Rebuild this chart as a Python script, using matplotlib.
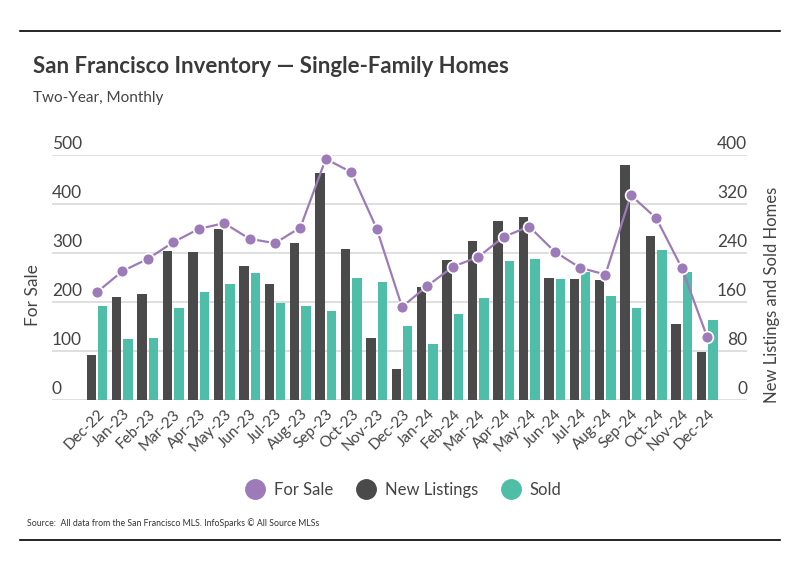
import numpy as np
import matplotlib
matplotlib.use("Agg")
import matplotlib.pyplot as plt
import matplotlib.transforms as mtransforms
from matplotlib.lines import Line2D

months = ["Dec-22", "Jan-23", "Feb-23", "Mar-23", "Apr-23", "May-23", "Jun-23",
          "Jul-23", "Aug-23", "Sep-23", "Oct-23", "Nov-23", "Dec-23", "Jan-24",
          "Feb-24", "Mar-24", "Apr-24", "May-24", "Jun-24", "Jul-24", "Aug-24",
          "Sep-24", "Oct-24", "Nov-24", "Dec-24"]
for_sale = [220, 263, 288, 322, 349, 361, 329, 320, 352, 492, 465, 350, 190,
            233, 272, 292, 333, 354, 303, 270, 256, 418, 371, 270, 129]
new_listings = [73, 168, 173, 243, 242, 279, 219, 189, 256, 371, 247, 101, 51,
                184, 229, 260, 292, 299, 199, 198, 196, 384, 268, 124, 78]
sold = [154, 100, 101, 150, 176, 189, 207, 158, 153, 145, 199, 193, 121,
        91, 140, 166, 227, 230, 197, 209, 170, 150, 245, 209, 131]

left_ticks = [0, 100, 200, 300, 400, 500]
right_ticks = [0, 80, 160, 240, 320, 400]

PURPLE = "#9d7bb9"
DARK = "#4a4a4a"
TEAL = "#4fbea9"
GRID = "#d9d9d9"
TEXT = "#444444"

plt.rcParams["font.family"] = ["Lato", "DejaVu Sans"]

fig = plt.figure(figsize=(7.99, 5.75), dpi=100)
ax = fig.add_axes([52 / 799, 175 / 575, 695 / 799, 245 / 575])
ax2 = ax.twinx()

x = np.arange(len(months))
w = 0.37
ax2.bar(x - 0.225, new_listings, width=w, color=DARK, zorder=2)
ax2.bar(x + 0.225, sold, width=w, color=TEAL, zorder=2)
ax2.set_ylim(0, 400)

ax.set_zorder(ax2.get_zorder() + 1)
ax.patch.set_visible(False)
ax.plot(x, for_sale, color=PURPLE, lw=1.6, marker="o", ms=8.5,
        markerfacecolor=PURPLE, markeredgecolor="white", markeredgewidth=1.2,
        zorder=3, clip_on=False)
ax.set_ylim(0, 500)
ax.set_xlim(-1.77, 25.57)

for a in (ax, ax2):
    for s in a.spines.values():
        s.set_visible(False)
    a.set_yticks([])
    a.tick_params(length=0)

# gridlines drawn on the bar axis so they sit behind the bars
for t in right_ticks:
    ax2.axhline(t, color=GRID, lw=1.2, zorder=1)

tr_l = mtransforms.blended_transform_factory(ax.transAxes, ax.transData)
for t in left_ticks:
    ax.text(0.0, t + 23, str(t), transform=tr_l, ha="left", va="center",
            fontsize=12.5, color=TEXT)
tr_r = mtransforms.blended_transform_factory(ax2.transAxes, ax2.transData)
for t in right_ticks:
    ax2.text(1.0, t + 18, str(t), transform=tr_r, ha="right", va="center",
             fontsize=12.5, color=TEXT)

ax.set_xticks(x)
ax.set_xticklabels(months, rotation=45, ha="right", rotation_mode="anchor",
                   fontsize=11, color=TEXT)
ax.tick_params(axis="x", pad=5)

fig.text(33 / 799, 1 - 295 / 575, "For Sale", rotation=90, ha="center",
         va="center", fontsize=12.5, color=TEXT)
fig.text(772 / 799, 1 - 295 / 575, "New Listings and Sold Homes", rotation=90,
         ha="center", va="center", fontsize=12, color=TEXT)

fig.text(33 / 799, 1 - 67 / 575, "San Francisco Inventory \u2014 Single-Family Homes",
         fontsize=16, fontweight="bold", color="#3a3a3a", va="center")
fig.text(33 / 799, 1 - 98 / 575, "Two-Year, Monthly", fontsize=11,
         color=TEXT, va="center")

handles = [Line2D([], [], ls="", marker="o", ms=14, color=c)
           for c in (PURPLE, DARK, TEAL)]
fig.legend(handles, ["For Sale", "New Listings", "Sold"], loc="center",
           bbox_to_anchor=(400 / 799, 1 - 490 / 575), ncol=3, frameon=False,
           fontsize=12, handletextpad=0.1, columnspacing=1.0,
           labelcolor=TEXT)

fig.text(27 / 799, 1 - 523 / 575,
         "Source:  All data from the San Francisco MLS. InfoSparks \u00a9 All Source MLSs",
         fontsize=6.3, color="#333333", va="center")

fig.add_artist(Line2D([20 / 799, 780 / 799], [1 - 31 / 575] * 2, color="black", lw=1.2))
fig.add_artist(Line2D([20 / 799, 780 / 799], [1 - 540 / 575] * 2, color="black", lw=1.2))

fig.savefig("out.png", dpi=100, facecolor="white")
